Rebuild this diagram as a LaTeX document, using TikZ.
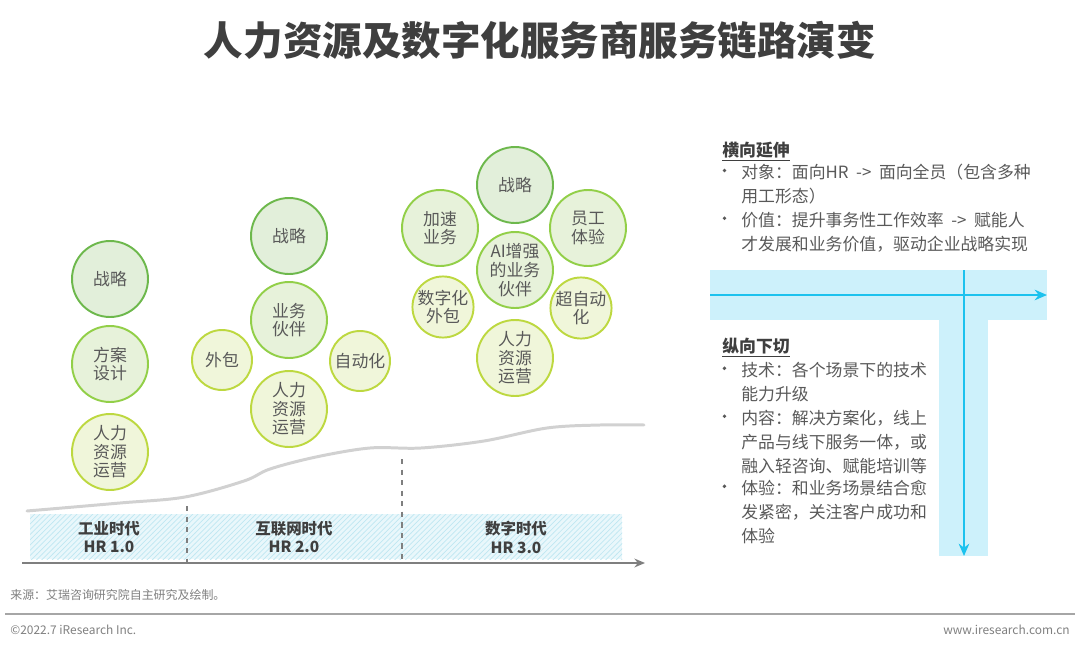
\documentclass[tikz,border=0pt]{standalone}
\usepackage{xcolor}
\usepackage{fontspec}
\setmainfont{Noto Sans CJK SC}
\usetikzlibrary{patterns,arrows.meta}

\definecolor{titlegrey}{HTML}{3F3F3F}
\definecolor{txtgrey}{HTML}{595959}
\definecolor{footgrey}{HTML}{7F7F7F}
\definecolor{darkG}{HTML}{6DB84C}
\definecolor{darkGfill}{HTML}{E2EFDA}
\definecolor{midG}{HTML}{92CF48}
\definecolor{midGfill}{HTML}{E7F2DA}
\definecolor{yelG}{HTML}{BDD840}
\definecolor{yelGfill}{HTML}{F0F6DA}
\definecolor{bandfill}{HTML}{E9F7FB}
\definecolor{bandhatch}{HTML}{BFE7F2}
\definecolor{tband}{HTML}{CDF1FB}
\definecolor{tarrow}{HTML}{1CC2EE}

% viñeta colgada a la izquierda de la primera linea
\newcommand{\pbul}{\makebox[0pt][r]{\raisebox{0.7ex}{\tikz\fill[txtgrey] (0,0) circle (1.1pt);}\hspace{8.5pt}}}

\tikzset{
  circ/.style={circle, draw, line width=1.1pt, minimum size=1.52cm, inner sep=0pt,
    align=center, text=txtgrey, font=\fontsize{9.6}{10.6}\selectfont},
  circA/.style={circ, draw=darkG, fill=darkGfill},
  circB/.style={circ, draw=midG, fill=midGfill},
  circC/.style={circ, draw=yelG, fill=yelGfill},
  small/.style={minimum size=1.2cm},
  eralabel/.style={align=center, text=titlegrey, font=\fontsize{8.8}{10.8}\selectfont\bfseries},
  panelhead/.style={anchor=west, inner sep=0pt, text=titlegrey, font=\fontsize{9.6}{13.6}\selectfont\bfseries},
  paneltext/.style={anchor=north west, inner sep=0pt, align=left, text=txtgrey,
    font=\fontsize{9.6}{13.6}\selectfont},
  foot/.style={inner sep=0pt, text=footgrey, font=\fontsize{6.8}{8}\selectfont}
}

\begin{document}
\begin{tikzpicture}[x=0.02cm, y=-0.02cm]
  \useasboundingbox (0,0) rectangle (1080,649);

  % titulo
  \node[text=titlegrey, font=\fontsize{22.5}{26}\selectfont\bfseries] (title) at (540,40)
    {人力资源及数字化服务商服务链路演变};

  % banda de eras
  \path[preaction={fill=bandfill}, pattern=north east lines, pattern color=bandhatch]
    (30,514) rectangle (622,559);
  \draw[line width=1.7pt, draw=black!18, line cap=round]
    plot[smooth, tension=0.55] coordinates {(27,511) (120,503) (185,497) (244,481) (270,469)
      (316,457) (370,448) (421,448) (484,441) (547,428) (600,425) (644,425)};
  \coordinate (sep1top) at (187,506);
  \coordinate (sep1bot) at (187,562);
  \coordinate (sep2top) at (402,459);
  \coordinate (sep2bot) at (402,562);
  \draw[footgrey, dashed, line width=0.9pt] (sep1top) -- (sep1bot);
  \draw[footgrey, dashed, line width=0.9pt] (sep2top) -- (sep2bot);
  \coordinate (ax0) at (22,563);
  \coordinate (ax1) at (645,563);
  \draw[footgrey, line width=1.3pt, -{Stealth[length=6pt,width=5pt]}] (ax0) -- (ax1);

  \node[eralabel] (era1) at (109,537) {工业时代\\HR 1.0};
  \node[eralabel] (era2) at (294,537) {互联网时代\\HR 2.0};
  \node[eralabel] (era3) at (516,537) {数字时代\\HR 3.0};

  % HR 1.0
  \node[circA] (strat1) at (110,279) {战略};
  \node[circB] (plan1) at (110,364) {方案\\设计};
  \node[circC] (ops1) at (110,452) {人力\\资源\\运营};

  % HR 2.0
  \node[circA] (strat2) at (289,236) {战略};
  \node[circB] (bp2) at (289,320) {业务\\伙伴};
  \node[circC, small] (out2) at (222,360) {外包};
  \node[circC, small] (auto2) at (360,361) {自动化};
  \node[circC] (ops2) at (289,409) {人力\\资源\\运营};

  % HR 3.0
  \node[circA] (strat3) at (515,185) {战略};
  \node[circB] (acc3) at (440,228) {加速\\业务};
  \node[circB] (exp3) at (588,228) {员工\\体验};
  \node[circB] (ai3) at (515,270) {AI增强\\的业务\\伙伴};
  \node[circC, small] (dout3) at (443,307) {数字化\\外包};
  \node[circC, small] (hauto3) at (581,308) {超自动\\化};
  \node[circC] (ops3) at (515,358) {人力\\资源\\运营};

  % panel derecho
  \node[panelhead] (hhead) at (722,152) {\underline{横向延伸}};
  \node[paneltext] (ht1) at (741,164) {\pbul 对象：面向HR \ -> \ 面向全员（包含多种\\用工形态）};
  \node[paneltext] (ht2) at (741,212) {\pbul 价值：提升事务性工作效率 \ -> \ 赋能人\\才发展和业务价值，驱动企业战略实现};

  \fill[tband] (710,270) rectangle (1047,320);
  \fill[tband] (939,320) rectangle (988,556);
  \coordinate (hA0) at (710,295);
  \coordinate (hA1) at (1047,295);
  \coordinate (vA0) at (964,270);
  \coordinate (vA1) at (964,556);
  \draw[tarrow, line width=1.2pt, -{Stealth[length=7pt,width=6pt]}] (hA0) -- (hA1);
  \draw[tarrow, line width=1.2pt, -{Stealth[length=7pt,width=6pt]}] (vA0) -- (vA1);

  \node[panelhead] (vhead) at (722,348) {\underline{纵向下切}};
  \node[paneltext] (vt1) at (741,362) {\pbul 技术：各个场景下的技术\\能力升级};
  \node[paneltext] (vt2) at (741,410) {\pbul 内容：解决方案化，线上\\产品与线下服务一体，或\\融入轻咨询、赋能培训等};
  \node[paneltext] (vt3) at (741,480) {\pbul 体验：和业务场景结合愈\\发紧密，关注客户成功和\\体验};

  % pie de pagina
  \node[foot, anchor=west] (src) at (10,595) {来源：艾瑞咨询研究院自主研究及绘制。};
  \coordinate (fl0) at (5,614);
  \coordinate (fl1) at (1075,614);
  \draw[black!35, line width=1pt] (fl0) -- (fl1);
  \node[foot, anchor=west] (copy) at (10,630) {©2022.7 iResearch Inc.};
  \node[foot, anchor=east] (web) at (1070,630) {www.iresearch.com.cn};
\end{tikzpicture}
\end{document}
